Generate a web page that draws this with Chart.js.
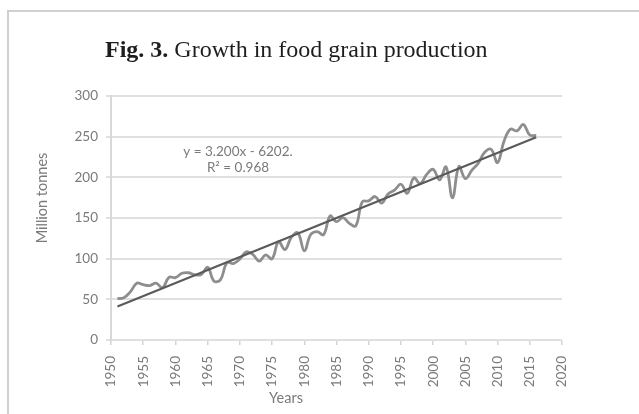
<!DOCTYPE html>
<html>
<head>
<meta charset="utf-8">
<script src="https://cdn.jsdelivr.net/npm/chart.js@4/dist/chart.umd.min.js"></script>
<style>
  html, body { margin: 0; padding: 0; background: #fff; }
  #wrap { position: relative; width: 639px; height: 414px; overflow: hidden; }
  #frame { position: absolute; left: 7px; top: 10px; width: 700px; height: 500px;
           border: 2px solid #d0d0d0; box-sizing: border-box; }
  canvas { position: absolute; left: 0; top: 0; }
</style>
</head>
<body>
<div id="wrap">
  <div id="frame"></div>
  <canvas id="chart" width="639" height="414"></canvas>
</div>
<script>
// Food grain production, million tonnes
const years = [
    1951, 1952, 1953, 1954, 1955, 1956, 1957, 1958, 1959, 1960,
    1961, 1962, 1963, 1964, 1965, 1966, 1967, 1968, 1969, 1970,
    1971, 1972, 1973, 1974, 1975, 1976, 1977, 1978, 1979, 1980,
    1981, 1982, 1983, 1984, 1985, 1986, 1987, 1988, 1989, 1990,
    1991, 1992, 1993, 1994, 1995, 1996, 1997, 1998, 1999, 2000,
    2001, 2002, 2003, 2004, 2005, 2006, 2007, 2008, 2009, 2010,
    2011, 2012, 2013, 2014, 2015, 2016,
];
const production = [
    50.8, 52.0, 59.2, 69.8, 68.0, 66.9, 69.9, 64.3, 77.1, 76.7,
    82.0, 82.7, 80.2, 80.6, 89.4, 72.3, 74.2, 95.1, 94.0, 99.5,
    108.4, 105.2, 97.0, 104.7, 99.8, 121.0, 111.2, 126.4, 131.9, 109.7,
    129.6, 133.3, 129.5, 152.4, 145.5, 150.4, 143.4, 140.4, 169.9, 171.0,
    176.4, 168.4, 179.5, 184.3, 191.5, 180.4, 199.4, 192.3, 203.6, 209.8,
    196.8, 212.9, 174.8, 213.2, 198.4, 208.6, 217.3, 230.8, 234.5, 218.1,
    244.5, 259.3, 257.1, 265.0, 252.0, 251.6,
];

// linear trend endpoints
const trendYears = [1951, 2016];
const trendValues = [41.2, 249.2];

const equationLines = ["y = 3.200x - 6202.", "R\u00B2 = 0.968"];

const GREY_TEXT = "#7a7a7a";
const SANS = "Lato, 'Open Sans', sans-serif";

const textPlugin = {
    id: "texts",
    afterDraw(chart) {
        const ctx = chart.ctx;
        ctx.save();

        // figure caption
        ctx.fillStyle = "#1e1e1e";
        ctx.textAlign = "left";
        ctx.textBaseline = "alphabetic";
        ctx.font = "bold 24px 'Liberation Serif', serif";
        ctx.fillText("Fig. 3.", 105, 57);
        const w = ctx.measureText("Fig. 3. ").width;
        ctx.font = "24px 'Liberation Serif', serif";
        ctx.fillText("Growth in food grain production", 105 + w, 57);

        // axis titles
        ctx.fillStyle = GREY_TEXT;
        ctx.font = "14.5px " + SANS;
        ctx.textAlign = "center";
        ctx.textBaseline = "middle";
        ctx.fillText("Years", 286, 398);
        ctx.save();
        ctx.translate(42, 198);
        ctx.rotate(-Math.PI / 2);
        ctx.fillText("Million tonnes", 0, 0);
        ctx.restore();

        // trendline equation
        ctx.font = "13.5px " + SANS;
        ctx.fillText(equationLines[0], 238, 152);
        ctx.fillText(equationLines[1], 238, 168);

        ctx.restore();
    },
};

new Chart(document.getElementById("chart"), {
    type: "line",
    data: {
        datasets: [
            {
                data: trendYears.map((x, i) => ({ x, y: trendValues[i] })),
                borderColor: "#5a5a5a",
                borderWidth: 2.2,
                pointRadius: 0,
                tension: 0,
                order: 0,
            },
            {
                data: years.map((x, i) => ({ x, y: production[i] })),
                borderColor: "#8e8e8e",
                borderWidth: 2.8,
                pointRadius: 0,
                tension: 0.4,
                order: 1,
            },
        ],
    },
    options: {
        responsive: false,
        animation: false,
        layout: { padding: { left: 0, top: 96, right: 77, bottom: 0 } },
        plugins: { legend: { display: false }, tooltip: { enabled: false } },
        scales: {
            x: {
                type: "linear",
                min: 1950,
                max: 2020,
                afterFit: s => { s.height = 74; },
                ticks: {
                    stepSize: 5,
                    minRotation: 90,
                    maxRotation: 90,
                    padding: 11,
                    color: GREY_TEXT,
                    font: { family: SANS, size: 13.5 },
                    callback: v => String(v),
                },
                grid: {
                    drawOnChartArea: false,
                    drawTicks: true,
                    tickLength: 5,
                    color: "#d4d4d4",
                    lineWidth: 1.5,
                },
                border: { display: false },
            },
            y: {
                min: 0,
                max: 300,
                afterFit: s => { s.width = 111; },
                ticks: {
                    stepSize: 50,
                    padding: 8,
                    color: GREY_TEXT,
                    font: { family: SANS, size: 13.5 },
                },
                grid: {
                    color: "#e0e0e0",
                    lineWidth: 2,
                    tickLength: 5,
                },
                border: { display: true, color: "#d8d8d8", width: 2 },
            },
        },
    },
    plugins: [textPlugin],
});
</script>
</body>
</html>
